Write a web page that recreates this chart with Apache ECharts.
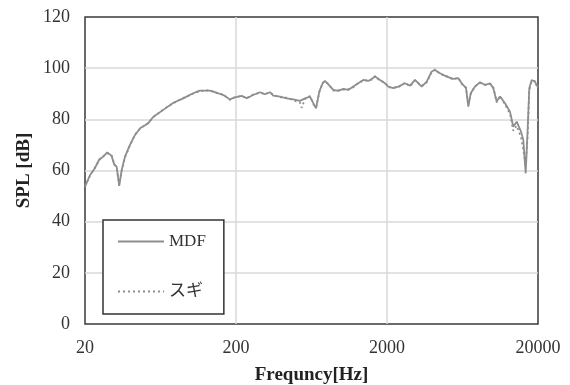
<!DOCTYPE html>
<html>
<head>
<meta charset="utf-8">
<script src="https://cdn.jsdelivr.net/npm/echarts@6/dist/echarts.min.js"></script>
<style>html,body{margin:0;padding:0;background:#fff}#c{width:570px;height:385px}</style>
</head>
<body>
<div id="c"></div>
<script>
// Frequency points (Hz)
const freqs = [20,21.6,23.3,24.9,26.4,28.1,30.0,31.3,32.4,33.7,35.0,36.8,39.7,42.9,46.3,52.5,56.7,66,77,89.5,104,115,134,149,165,182,197,218,235,248,260,288,311,336,353,391,433,479,531,545,573,618,650,678,713,750,777,817,882,952,1027,1109,1196,1291,1393,1504,1584,1666,1797,1940,2040,2202,2376,2632,2841,3066,3394,3663,3954,4158,4487,4972,5498,5933,6250,6673,6910,7168,7652,8260,8914,9620,10116,10654,11204,12092,13050,13722,14452,15434,15984,16578,17094,17516,18168,19106,19608,20000];
// SPL values (dB)
const mdf = [53.7,58.2,61,64.4,65.4,67.1,65.7,62.2,61.5,54,60.2,65.4,70,73.9,76.5,78.5,81,83.7,86.5,88.2,90.2,91.2,91.2,90.4,89.5,87.8,88.6,89.2,88.3,88.9,89.5,90.6,89.8,90.6,89.3,88.9,88.2,87.8,87.2,87.4,88.2,88.9,86.3,84.3,90.9,94.1,95,93.7,91.5,91.1,91.9,91.5,92.8,94.1,95.4,95,95.8,96.7,95.4,94.1,92.8,92.2,92.8,94.1,93.2,95.4,92.8,94.7,98.7,99.3,98,96.7,95.8,96.1,94.1,92.2,85,90.2,92.8,94.5,93.4,94.1,92.2,87,88.9,86.3,83,77.1,79.1,75.2,71.9,58.9,76.5,92.2,95.4,94.7,93.4,92.5];
const sugi = [53.9,58.0,61.2,64.1,65.6,66.8,65.9,62.5,61.2,54.3,60.0,65.1,69.8,74.1,76.3,78.7,80.8,83.9,86.3,88.4,90.0,91.0,91.4,90.2,89.7,87.6,88.8,89.0,88.5,88.7,89.8,90.3,90.0,90.4,89.6,88.6,88.5,87.5,86.5,84.5,88.0,89.1,86.0,84.6,90.6,94.3,94.8,93.9,91.2,91.4,91.6,91.8,92.5,94.3,95.1,95.3,95.5,96.9,95.1,94.4,92.5,92.5,92.5,94.3,92.9,95.2,93.1,94.4,98.4,99.5,97.7,96.9,95.5,96.3,93.8,92.5,85.5,89.9,93.0,94.2,93.6,93.8,92.5,86.6,89.2,85.8,82.2,75.5,77.5,73.0,68.0,62.0,74.0,91.5,95.1,94.9,93.1,92.3];
const xTicks = ['20','200','2000','20000'];
const yTicks = [0,20,40,60,80,100,120];

const toPts = arr => arr.map((v,i)=>[Math.log10(freqs[i]/20), v]);
const serif = "'Liberation Serif','Times New Roman',serif";
const jp = "'Liberation Serif','Noto Sans CJK JP',serif";
const gray = '#8e8e8e';

const chart = echarts.init(document.getElementById('c'), null, {renderer:'canvas'});
chart.setOption({
  animation:false,
  backgroundColor:'#fff',
  grid:{left:85,right:32,top:17,bottom:61,outerBoundsMode:'none',containLabel:false,show:true,borderColor:'#3a3a3a',borderWidth:1.5,backgroundColor:'transparent'},
  legend:{
    orient:'vertical',left:103,top:220,
    padding:[13,18,14,14],itemGap:33,itemWidth:46,itemHeight:14,
    backgroundColor:'#fff',borderColor:'#333',borderWidth:1.5,
    textStyle:{fontFamily:jp,fontSize:17,color:'#333'},
    itemStyle:{opacity:0},
    data:['MDF','スギ']
  },
  xAxis:{
    type:'value',min:0,max:3,interval:1,
    axisLine:{show:false},axisTick:{show:false},
    axisLabel:{formatter:(v)=>xTicks[Math.round(v)],fontFamily:serif,fontSize:18,color:'#333',margin:15},
    splitLine:{show:true,showMinLine:false,showMaxLine:false,lineStyle:{color:'#d9d9d9',width:1.5}},
    name:'Frequncy[Hz]',nameLocation:'middle',nameGap:42,nameMoveOverlap:false,
    nameTextStyle:{fontFamily:serif,fontSize:19,fontWeight:'bold',color:'#222'}
  },
  yAxis:{
    type:'value',min:yTicks[0],max:yTicks[yTicks.length-1],interval:20,
    axisLine:{show:false},axisTick:{show:false},
    axisLabel:{fontFamily:serif,fontSize:18,color:'#333',margin:15},
    splitLine:{show:true,showMinLine:false,showMaxLine:false,lineStyle:{color:'#d9d9d9',width:1.5}},
    name:'SPL [dB]',nameLocation:'middle',nameGap:61,nameMoveOverlap:false,
    nameTextStyle:{fontFamily:serif,fontSize:19,fontWeight:'bold',color:'#222',verticalAlign:'middle'}
  },
  series:[
    {name:'MDF',type:'line',data:toPts(mdf),symbol:'none',smooth:false,
     lineStyle:{color:gray,width:1.8},itemStyle:{color:gray}},
    {name:'スギ',type:'line',data:toPts(sugi),symbol:'none',smooth:false,
     lineStyle:{color:gray,width:1.8,type:[2,3]},itemStyle:{color:gray}}
  ]
});
</script>
</body>
</html>
